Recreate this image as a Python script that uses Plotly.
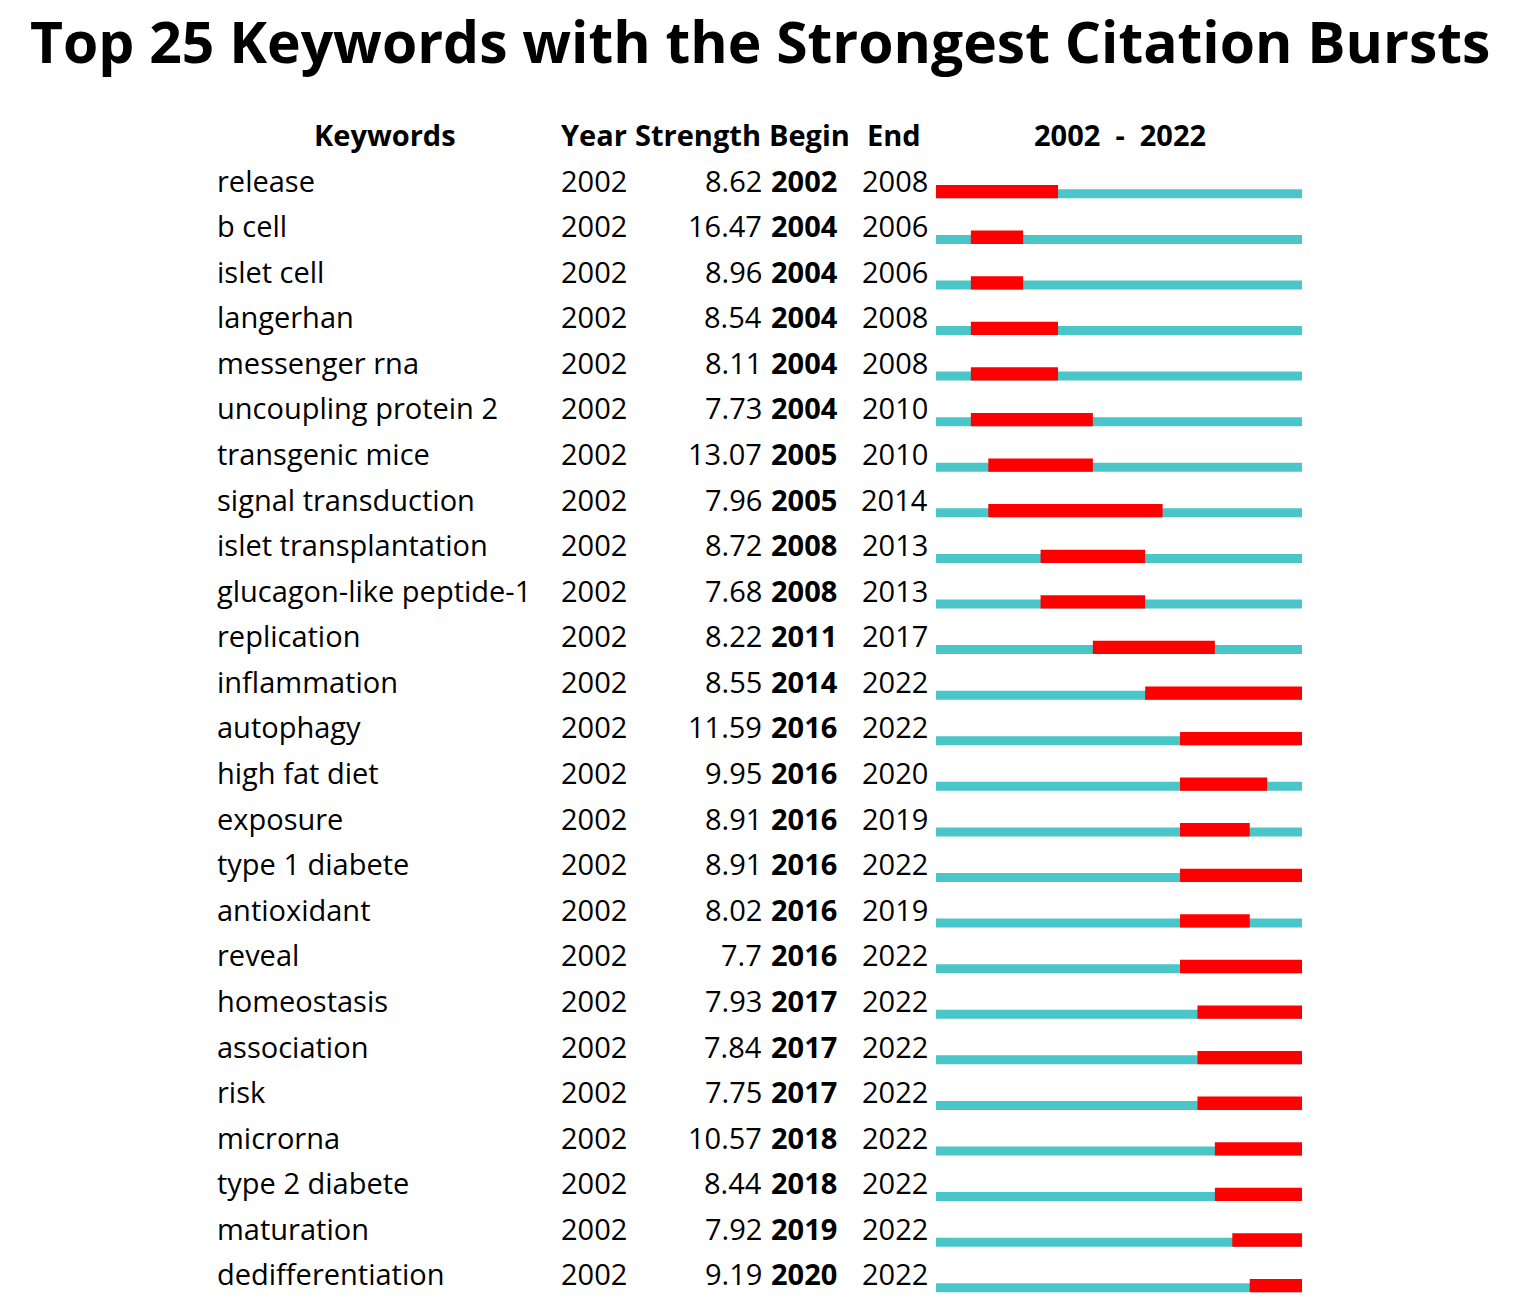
import plotly.graph_objects as go

keywords = ["release", "b cell", "islet cell", "langerhan", "messenger rna",
            "uncoupling protein 2", "transgenic mice", "signal transduction",
            "islet transplantation", "glucagon-like peptide-1", "replication",
            "inflammation", "autophagy", "high fat diet", "exposure",
            "type 1 diabete", "antioxidant", "reveal", "homeostasis",
            "association", "risk", "microrna", "type 2 diabete", "maturation",
            "dedifferentiation"]
year = [2002] * 25
strength = ["8.62", "16.47", "8.96", "8.54", "8.11", "7.73", "13.07", "7.96",
            "8.72", "7.68", "8.22", "8.55", "11.59", "9.95", "8.91", "8.91",
            "8.02", "7.7", "7.93", "7.84", "7.75", "10.57", "8.44", "7.92", "9.19"]
begin = [2002, 2004, 2004, 2004, 2004, 2004, 2005, 2005, 2008, 2008, 2011,
         2014, 2016, 2016, 2016, 2016, 2016, 2016, 2017, 2017, 2017, 2018,
         2018, 2019, 2020]
end = [2008, 2006, 2006, 2008, 2008, 2010, 2010, 2014, 2013, 2013, 2017,
       2022, 2022, 2020, 2019, 2022, 2019, 2022, 2022, 2022, 2022, 2022,
       2022, 2022, 2022]
span_start, span_end = 2002, 2022
headers = ["Keywords", "Year", "Strength", "Begin", "End", "2002 - 2022"]
title = "Top 25 Keywords with the Strongest Citation Bursts"

W, H = 1525, 1307
PITCH = 45.58
ROW0 = 182.0
YR_PX = 17.43
X0PX = 936.0

rows = list(range(len(keywords)))
FONT = "Open Sans, Segoe UI, sans-serif"
FS = 29

fig = go.Figure()
fig.add_trace(go.Bar(
    y=rows, base=[span_start] * 25, x=[span_end - span_start + 1] * 25,
    orientation="h", width=9 / PITCH, offset=7.3 / PITCH,
    marker=dict(color="#4AC6C8", line=dict(width=0)), hoverinfo="skip"))
fig.add_trace(go.Bar(
    y=rows, base=begin, x=[e - b + 1 for b, e in zip(begin, end)],
    orientation="h", width=13.3 / PITCH, offset=3.0 / PITCH,
    marker=dict(color="#FF0000", line=dict(width=0)), hoverinfo="skip"))

def px(x):
    return x / W

ann = []
for i in rows:
    ann.append(dict(x=px(215), y=i, text=keywords[i], xanchor="left"))
    ann.append(dict(x=px(559), y=i, text=str(year[i]), xanchor="left"))
    ann.append(dict(x=px(764), y=i, text=strength[i], xanchor="right"))
    ann.append(dict(x=px(769), y=i, text="<b>%d</b>" % begin[i], xanchor="left"))
    ann.append(dict(x=px(930), y=i, text=str(end[i]), xanchor="right"))
hx = [385, 594, 698, 810, 894, 1120]
htext = ["Keywords", "Year", "Strength", "Begin", "End", "2002&nbsp;&nbsp;-&nbsp;&nbsp;2022"]
for h, x in zip(htext, hx):
    ann.append(dict(x=px(x), y=-1, text="<b>%s</b>" % h, xanchor="center"))
for a in ann:
    a.update(xref="paper", yref="y", yanchor="middle", showarrow=False, yshift=2,
             font=dict(family=FONT, size=FS, color="black"))
ann.append(dict(x=px(760), y=1, xref="paper", yref="paper",
                text="<b>%s</b>" % title, showarrow=False, xanchor="center",
                yanchor="top", font=dict(family=FONT, size=57, color="black")))

fig.update_layout(
    width=W, height=H, autosize=False,
    margin=dict(l=0, r=0, t=0, b=0),
    paper_bgcolor="white", plot_bgcolor="white",
    barmode="overlay", showlegend=False, annotations=ann,
    xaxis=dict(range=[span_start - X0PX / YR_PX, span_start + (W - X0PX) / YR_PX],
               visible=False, fixedrange=True),
    yaxis=dict(range=[(H - ROW0) / PITCH, -ROW0 / PITCH], visible=False,
               fixedrange=True),
)
fig.write_html("out.html", config={"displayModeBar": False},
               post_script="document.body.style.margin='0';")
